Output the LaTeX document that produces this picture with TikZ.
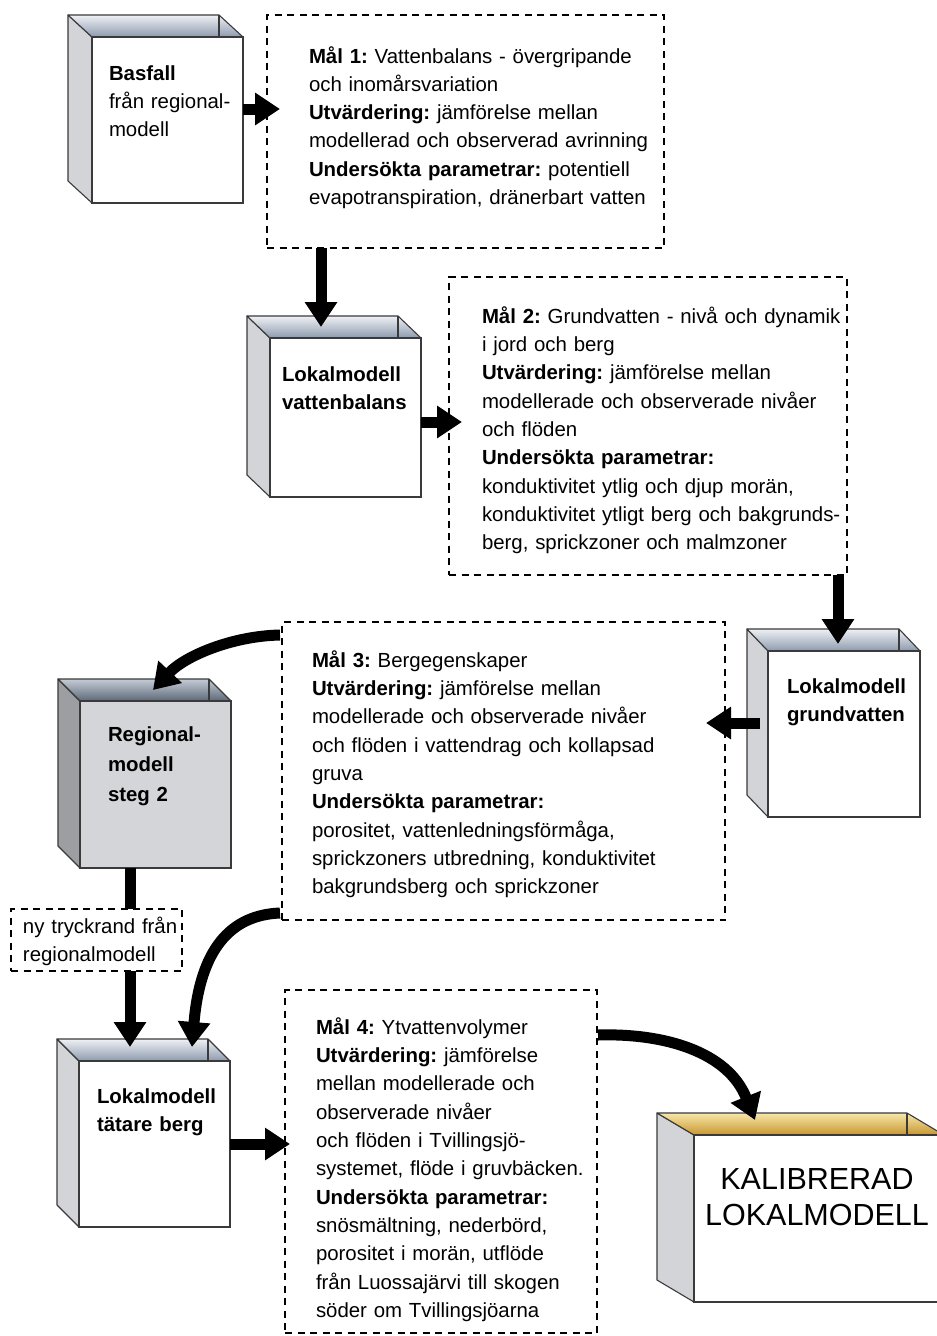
\documentclass[tikz,border=0pt]{standalone}
\usepackage{fontspec}
\setmainfont{Liberation Sans}
\usetikzlibrary{arrows.meta,calc}
\frenchspacing
\definecolor{edge}{HTML}{3A3A3A}
\definecolor{sideA}{HTML}{D3D4D8}
\definecolor{frontR}{HTML}{D4D5D9}
\definecolor{sideR}{HTML}{9D9EA2}
\definecolor{blueT}{HTML}{EEF1F5}
\definecolor{blueB}{HTML}{8D9AAE}
\definecolor{regT}{HTML}{C4CCD6}
\definecolor{regB}{HTML}{5D6878}
\definecolor{goldT}{HTML}{F8E8A8}
\definecolor{goldB}{HTML}{C89530}
\newcommand{\mfont}{\fontsize{20.4}{28.3}\selectfont\frenchspacing}
\newcommand{\fstrut}{\rule{0pt}{20pt}}
% #1 name, #2 FL, #3 FT, #4 w, #5 h, #6 depth, #7 front, #8 side, #9 shading
\newcommand{\cubebox}[9]{%
  \begin{scope}[shift={(#2,#3)}]
    \filldraw[draw=edge, line width=1.1pt, fill=#8, line join=round]
      (0,0) -- (-#6,-22) -- (-#6,#5-22) -- (0,#5) -- cycle;
    \path[draw=edge, line width=1.1pt, line join=round, #9]
      (-#6,-22) -- (#4-#6,-22) -- (#4,0) -- (0,0) -- cycle;
    \draw[edge, line width=1.1pt] (#4-#6,-22) -- (#4-#6,0);
    \node[front, fill=#7, minimum width=#4pt, minimum height=#5pt] (#1) at (0,0) {};
  \end{scope}}
\begin{document}
\begin{tikzpicture}[x=1pt,y=-1pt,
  front/.style={draw=edge, line width=1.1pt, inner sep=0pt, outer sep=0pt, anchor=north west},
  dbox/.style={draw=black, line width=1.8pt, dash pattern=on 7pt off 5.5pt, inner sep=0pt, outer sep=0pt, anchor=north west},
  txt/.style={anchor=north west, inner sep=0pt, outer sep=0pt, text width=420pt, align=left, font=\mfont},
  shblue/.style={top color=blueT, bottom color=blueB},
  shreg/.style={top color=regT, bottom color=regB},
  shgold/.style={top color=goldT, bottom color=goldB},
  bigarrow/.style={line width=11pt, -{Triangle[length=25pt,width=31pt]}},
  thickline/.style={line width=11pt}]
\clip (0,0) rectangle (937,1336);
\fill[white] (0,0) rectangle (937,1336);

% dashed boxes
\node[dbox, minimum width=397pt, minimum height=233pt] (d1) at (267,15) {};
\node[dbox, minimum width=398pt, minimum height=298pt] (d2) at (449,277) {};
\node[dbox, minimum width=443pt, minimum height=298pt] (d3) at (282,622) {};
\node[dbox, minimum width=312pt, minimum height=343pt] (d4) at (285,990) {};
\node[dbox, minimum width=171pt, minimum height=62pt] (t1) at (11,909) {};

% cubes
\cubebox{b1}{92}{37}{151}{166}{24}{white}{sideA}{shblue}
\cubebox{b2}{270}{338}{151}{159}{23}{white}{sideA}{shblue}
\cubebox{b3}{768}{651}{152}{166}{21}{white}{sideA}{shblue}
\cubebox{b4}{80}{701}{151}{167}{22}{frontR}{sideR}{shreg}
\cubebox{b5}{79}{1061}{151}{166}{22}{white}{sideA}{shblue}
\cubebox{b6}{694}{1135}{250}{167}{37}{white}{sideA}{shgold}

% texts in dashed boxes
\node[txt] (m1) at (309,43) {\fstrut\textbf{Mål 1:} Vattenbalans - övergripande\\
och inomårsvariation\\
\textbf{Utvärdering:} jämförelse mellan\\
modellerad och observerad avrinning\\
\textbf{Undersökta parametrar:} potentiell\\
evapotranspiration, dränerbart vatten};

\node[txt] (m2) at (482,303.3) {\fstrut\textbf{Mål 2:} Grundvatten - nivå och dynamik\\
i jord och berg\\
\textbf{Utvärdering:} jämförelse mellan\\
modellerade och observerade nivåer\\
och flöden\\
\textbf{Undersökta parametrar:}\\
konduktivitet ytlig och djup morän,\\
konduktivitet ytligt berg och bakgrunds-\\
berg, sprickzoner och malmzoner};

\node[txt] (m3) at (312,647.3) {\fstrut\textbf{Mål 3:} Bergegenskaper\\
\textbf{Utvärdering:} jämförelse mellan\\
modellerade och observerade nivåer\\
och flöden i vattendrag och kollapsad\\
gruva\\
\textbf{Undersökta parametrar:}\\
porositet, vattenledningsförmåga,\\
sprickzoners utbredning, konduktivitet\\
bakgrundsberg och sprickzoner};

\node[txt] (m4) at (316,1014.3) {\fstrut\textbf{Mål 4:} Ytvattenvolymer\\
\textbf{Utvärdering:} jämförelse\\
mellan modellerade och\\
observerade nivåer\\
och flöden i Tvillingsjö-\\
systemet, flöde i gruvbäcken.\\
\textbf{Undersökta parametrar:}\\
snösmältning, nederbörd,\\
porositet i morän, utflöde\\
från Luossajärvi till skogen\\
söder om Tvillingsjöarna};

% texts in cubes
\node[txt, text width=140pt] (l1) at (109,60) {\fstrut\textbf{Basfall}\\från regional-\\modell};
\node[txt, text width=140pt] (l2) at (282,361.5) {\fstrut\textbf{Lokalmodell}\\\textbf{vattenbalans}};
\node[txt, text width=140pt] (l3) at (787,673) {\fstrut\textbf{Lokalmodell}\\\textbf{grundvatten}};
\node[txt, text width=140pt, font=\fontsize{20.4}{30.2}\selectfont] (l4) at (108,721.5) {\fstrut\textbf{Regional-}\\\textbf{modell}\\\textbf{steg 2}};
\node[txt, text width=140pt] (l5) at (97,1083) {\fstrut\textbf{Lokalmodell}\\\textbf{tätare berg}};
\node[txt, text width=170pt] (l6) at (23,913) {\fstrut ny tryckrand från\\regionalmodell};
\node[anchor=north, inner sep=0pt, outer sep=0pt, text width=270pt, align=center,
  font=\fontsize{30.5}{36}\selectfont] (l7) at (817,1159) {\rule{0pt}{30pt}KALIBRERAD\\LOKALMODELL};

% connectors
\draw[bigarrow] ([yshift=11pt]b1.east) -- ([shift={(13pt,22.5pt)}]d1.west);
\draw[bigarrow] ([xshift=-144.5pt]d1.south) -- ([shift={(-24.5pt,11pt)}]b2.north);
\draw[bigarrow] ([yshift=-4.5pt]b2.east) -- ([shift={(13pt,4pt)}]d2.west);
\draw[bigarrow] ([xshift=190pt]d2.south) -- ([shift={(-6pt,7pt)}]b3.north);
\draw[bigarrow] ([shift={(-8pt,11pt)}]b3.west) -- ([shift={(-19pt,48pt)}]d3.east);
\draw[thickline] ([xshift=-25.5pt]b4.south) -- ([xshift=33.5pt]t1.north);
\draw[bigarrow] ([xshift=33.5pt]t1.south) -- ([shift={(-24.5pt,14pt)}]b5.north);
\draw[bigarrow] (b5.east) -- ([shift={(5pt,17.5pt)}]d4.west);
\draw[bigarrow] ([shift={(-2pt,-13pt)}]d3.north west) .. controls (232,636) and (185,656) .. ([shift={(-2.5pt,11pt)}]b4.north);
\draw[bigarrow] ([shift={(-2pt,7pt)}]d3.south west) .. controls (230,915) and (200,950) .. ([shift={(37.5pt,14pt)}]b5.north);
\draw[bigarrow] ([shift={(1pt,-45pt)}]d4.north east) .. controls (665,1033) and (728,1052) .. ([shift={(-64pt,15pt)}]b6.north);
\end{tikzpicture}
\end{document}
